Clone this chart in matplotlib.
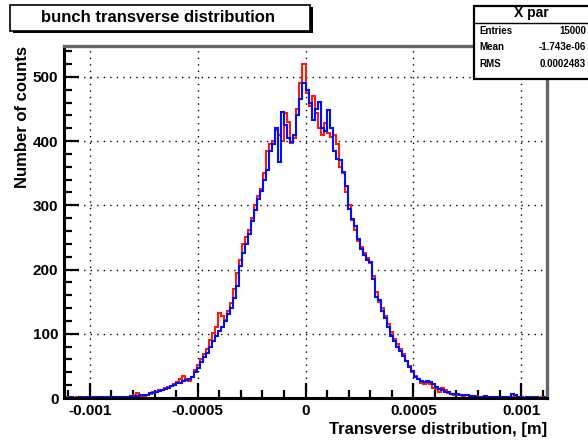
import numpy as np
import matplotlib
matplotlib.use("Agg")
import matplotlib.pyplot as plt
from matplotlib.patches import Rectangle
from matplotlib.ticker import MultipleLocator

# histogram range and bin count
x_lo, x_hi = -0.00112, 0.00112
n_bins = 160

# red series counts per bin
red_counts = [
    0, 1, 0, 0, 1, 0, 1, 0, 0, 1, 2, 0, 1, 1, 0, 2, 1, 0, 1, 2,
    1, 2, 1, 4, 8, 3, 3, 5,
    6, 9, 9, 12, 13, 15, 17, 19, 22, 25,
    30, 34, 29, 27, 33, 44, 52, 60, 68, 76,
    90, 101, 110, 132, 128, 122, 135, 148, 170, 195,
    215, 240, 250, 262, 280, 300, 315, 325, 350, 385,
    395, 400, 418, 410, 400, 444, 430, 397, 405, 450,
    490, 520, 475, 455,
    470, 444, 420, 410, 428, 412, 407, 410, 395, 360,
    350, 320, 300, 277, 262, 245, 235, 225, 218, 210,
    190, 165, 150, 140, 128, 115, 102, 92, 84, 76,
    68, 58, 50, 40, 35, 30, 24, 22, 23, 22,
    16, 14, 10, 16, 12, 8, 6, 5, 5, 4,
    3, 4, 3, 2, 3, 2, 1, 3, 2, 1,
    1, 2, 0, 1, 1, 1, 2, 1, 2, 1,
    0, 1, 0, 2, 1, 0, 1, 0,
]

# blue series counts per bin
blue_counts = [
    0, 0, 1, 0, 0, 1, 0, 2, 1, 0, 1, 2, 1, 0, 1, 1, 2, 1, 2, 1,
    2, 2, 3, 2, 3, 4, 5, 4,
    8, 8, 10, 11, 12, 14, 16, 18, 20, 23,
    24, 26, 28, 30, 33, 40, 47, 56, 64, 70,
    80, 88, 97, 104, 111, 120, 130, 140, 155, 175,
    205, 225, 240, 255, 275, 292, 310, 322, 340, 355,
    385, 395, 420, 368, 445, 425, 405, 398, 410, 440,
    465, 490, 480, 460,
    433, 450, 461, 420, 415, 449, 420, 385, 372, 370,
    352, 330, 295, 278, 268, 248, 232, 222, 215, 211,
    185, 158, 153, 135, 125, 110, 97, 88, 80, 73,
    66, 57, 48, 42, 33, 29, 26, 25, 26, 25,
    22, 17, 14, 12, 10, 9, 7, 7, 6, 5,
    4, 4, 3, 3, 2, 2, 2, 3, 2, 1,
    2, 1, 1, 2, 1, 1, 6, 4, 1, 1,
    0, 1, 1, 0, 1, 0, 0, 1,
]

x_label = "Transverse distribution, [m]"
y_label = "Number of counts"
title = "bunch transverse distribution"
stats_name = "X par"
stats_rows = [("Entries", "15000"), ("Mean", "-1.743e-06"), ("RMS", "0.0002483")]

plt.rcParams['font.family'] = ['Liberation Sans', 'DejaVu Sans']

W, H = 588, 440
fig = plt.figure(figsize=(W / 100, H / 100), dpi=100)
fig.patch.set_facecolor('white')


def fx(x):
    return x / W


def fy(y):
    return 1 - y / H


ax = fig.add_axes([fx(64), fy(398), (547 - 64) / W, (398 - 46) / H])

edges = np.linspace(x_lo, x_hi, n_bins + 1)
ax.stairs(red_counts, edges, color='#ff1a00', lw=1.5, baseline=None)
ax.stairs(blue_counts, edges, color='#0010ff', lw=1.5, baseline=None)

ax.set_xlim(x_lo, x_hi)
ax.set_ylim(0, 548)

ax.xaxis.set_major_locator(MultipleLocator(0.0005))
ax.xaxis.set_minor_locator(MultipleLocator(0.0001))
ax.yaxis.set_major_locator(MultipleLocator(100))
ax.yaxis.set_minor_locator(MultipleLocator(20))
ax.set_xticks([-0.001, -0.0005, 0, 0.0005, 0.001])
ax.set_xticklabels(['-0.001', '-0.0005', '0', '0.0005', '0.001'])
ax.set_yticks([0, 100, 200, 300, 400, 500])
ax.set_yticklabels(['0', '100', '200', '300', '400', '500'])

ax.tick_params(which='both', direction='in', top=False, right=False,
               width=1.6, color='black', labelsize=11)
ax.tick_params(which='major', length=11, pad=4)
ax.tick_params(which='minor', length=6)
for lab in ax.get_xticklabels() + ax.get_yticklabels():
    lab.set_fontweight('bold')

ax.grid(True, which='major', color='black', lw=1.0, linestyle=(0, (1, 3.7)))
ax.set_axisbelow(True)

for side in ['left', 'bottom']:
    ax.spines[side].set_linewidth(2.2)
    ax.spines[side].set_color('black')
for side in ['top', 'right']:
    ax.spines[side].set_linewidth(2.4)
    ax.spines[side].set_color('#666666')

ax.set_xlabel(x_label, fontsize=12, fontweight='bold', ha='right', x=1.0, labelpad=3)
ax.set_ylabel(y_label, fontsize=12, fontweight='bold', ha='right', y=1.0, labelpad=2)

# title box with shadow
fig.patches.append(Rectangle((fx(13), fy(33)), 300 / W, 26 / H, transform=fig.transFigure,
                             facecolor='black', edgecolor='none', zorder=5))
fig.patches.append(Rectangle((fx(10), fy(31)), 300 / W, 26 / H, transform=fig.transFigure,
                             facecolor='white', edgecolor='black', lw=1.2, zorder=6))
fig.text(fx(158), fy(17), title, ha='center', va='center', fontsize=12,
         fontweight='bold', zorder=7)

# stats box
fig.patches.append(Rectangle((fx(474), fy(79)), 130 / W, 73 / H, transform=fig.transFigure,
                             facecolor='white', edgecolor='black', lw=1.6, zorder=5))
fig.lines.append(plt.Line2D([fx(474), 1], [fy(23), fy(23)], transform=fig.transFigure,
                            color='black', lw=1.0, zorder=6))
fig.text(fx(531), fy(13), stats_name, ha='center', va='center', fontsize=10,
         fontweight='bold', zorder=7)
row_y = [31, 47, 64]
for (k, v), yy in zip(stats_rows, row_y):
    fig.text(fx(479), fy(yy), k, ha='left', va='center', fontsize=7,
             fontweight='bold', zorder=7)
    fig.text(fx(586), fy(yy), v, ha='right', va='center', fontsize=7,
             fontweight='bold', zorder=7)

fig.savefig('out.png', dpi=100)
